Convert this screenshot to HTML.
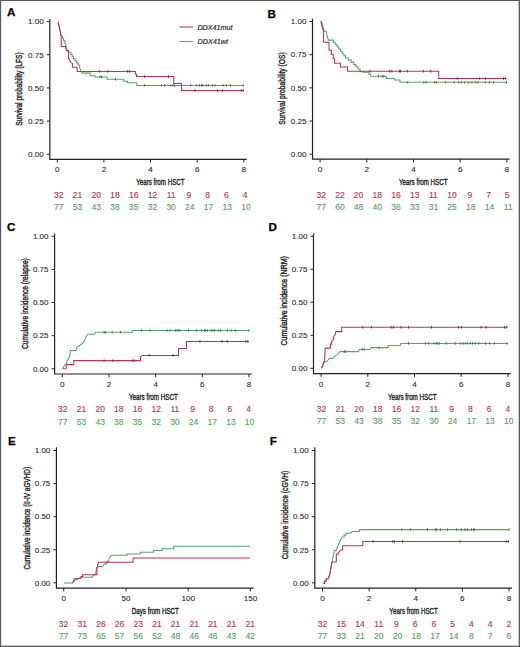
<!DOCTYPE html><html><head><meta charset="utf-8"><style>html,body{margin:0;padding:0;background:#fff;}svg{display:block;}</style></head><body>
<svg width="520" height="647" viewBox="0 0 520 647" font-family='"Liberation Sans", sans-serif'>
<rect x="0" y="0" width="520" height="647" fill="#fff"/>
<text x="6.9" y="16.3" font-size="11.6" font-weight="bold" fill="#000" stroke="#000" stroke-width="0.25">A</text>
<path d="M49.8 19V159.3H246.7" fill="none" stroke="#222" stroke-width="1.2"/>
<path d="M46.8 154.3H49.8" stroke="#222" stroke-width="1"/>
<text x="43.7" y="157.1" font-size="8" text-anchor="end" fill="#2a2a2a" stroke="#2a2a2a" stroke-width="0.1">0.00</text>
<path d="M46.8 121.12H49.8" stroke="#222" stroke-width="1"/>
<text x="43.7" y="123.92" font-size="8" text-anchor="end" fill="#2a2a2a" stroke="#2a2a2a" stroke-width="0.1">0.25</text>
<path d="M46.8 87.95H49.8" stroke="#222" stroke-width="1"/>
<text x="43.7" y="90.75" font-size="8" text-anchor="end" fill="#2a2a2a" stroke="#2a2a2a" stroke-width="0.1">0.50</text>
<path d="M46.8 54.78H49.8" stroke="#222" stroke-width="1"/>
<text x="43.7" y="57.58" font-size="8" text-anchor="end" fill="#2a2a2a" stroke="#2a2a2a" stroke-width="0.1">0.75</text>
<path d="M46.8 21.6H49.8" stroke="#222" stroke-width="1"/>
<text x="43.7" y="24.4" font-size="8" text-anchor="end" fill="#2a2a2a" stroke="#2a2a2a" stroke-width="0.1">1.00</text>
<path d="M57.3 159.3V162.6" stroke="#222" stroke-width="1"/>
<text x="57.3" y="172.3" font-size="8.1" text-anchor="middle" fill="#2a2a2a" stroke="#2a2a2a" stroke-width="0.1">0</text>
<path d="M103.92 159.3V162.6" stroke="#222" stroke-width="1"/>
<text x="103.92" y="172.3" font-size="8.1" text-anchor="middle" fill="#2a2a2a" stroke="#2a2a2a" stroke-width="0.1">2</text>
<path d="M150.55 159.3V162.6" stroke="#222" stroke-width="1"/>
<text x="150.55" y="172.3" font-size="8.1" text-anchor="middle" fill="#2a2a2a" stroke="#2a2a2a" stroke-width="0.1">4</text>
<path d="M197.18 159.3V162.6" stroke="#222" stroke-width="1"/>
<text x="197.18" y="172.3" font-size="8.1" text-anchor="middle" fill="#2a2a2a" stroke="#2a2a2a" stroke-width="0.1">6</text>
<path d="M243.8 159.3V162.6" stroke="#222" stroke-width="1"/>
<text x="243.8" y="172.3" font-size="8.1" text-anchor="middle" fill="#2a2a2a" stroke="#2a2a2a" stroke-width="0.1">8</text>
<text x="160.4" y="185.2" font-size="9.2" text-anchor="middle" textLength="48.4" lengthAdjust="spacingAndGlyphs" fill="#222" stroke="#222" stroke-width="0.38">Years from HSCT</text>
<text transform="translate(22 89.1) rotate(-90)" font-size="9.2" text-anchor="middle" textLength="73.4" lengthAdjust="spacingAndGlyphs" fill="#222" stroke="#222" stroke-width="0.38">Survival probability (LFS)</text>
<text x="58.8" y="197.7" font-size="8.5" text-anchor="middle" fill="#b03252" stroke="#b03252" stroke-width="0.12">32</text>
<text x="58.8" y="209.9" font-size="8.5" text-anchor="middle" fill="#55a060" stroke="#55a060" stroke-width="0.12">77</text>
<text x="77.52" y="197.7" font-size="8.5" text-anchor="middle" fill="#b03252" stroke="#b03252" stroke-width="0.12">21</text>
<text x="77.52" y="209.9" font-size="8.5" text-anchor="middle" fill="#55a060" stroke="#55a060" stroke-width="0.12">53</text>
<text x="96.24" y="197.7" font-size="8.5" text-anchor="middle" fill="#b03252" stroke="#b03252" stroke-width="0.12">20</text>
<text x="96.24" y="209.9" font-size="8.5" text-anchor="middle" fill="#55a060" stroke="#55a060" stroke-width="0.12">43</text>
<text x="114.96" y="197.7" font-size="8.5" text-anchor="middle" fill="#b03252" stroke="#b03252" stroke-width="0.12">18</text>
<text x="114.96" y="209.9" font-size="8.5" text-anchor="middle" fill="#55a060" stroke="#55a060" stroke-width="0.12">38</text>
<text x="133.68" y="197.7" font-size="8.5" text-anchor="middle" fill="#b03252" stroke="#b03252" stroke-width="0.12">16</text>
<text x="133.68" y="209.9" font-size="8.5" text-anchor="middle" fill="#55a060" stroke="#55a060" stroke-width="0.12">35</text>
<text x="152.4" y="197.7" font-size="8.5" text-anchor="middle" fill="#b03252" stroke="#b03252" stroke-width="0.12">12</text>
<text x="152.4" y="209.9" font-size="8.5" text-anchor="middle" fill="#55a060" stroke="#55a060" stroke-width="0.12">32</text>
<text x="171.12" y="197.7" font-size="8.5" text-anchor="middle" fill="#b03252" stroke="#b03252" stroke-width="0.12">11</text>
<text x="171.12" y="209.9" font-size="8.5" text-anchor="middle" fill="#55a060" stroke="#55a060" stroke-width="0.12">30</text>
<text x="188.84" y="197.7" font-size="8.5" text-anchor="middle" fill="#b03252" stroke="#b03252" stroke-width="0.12">9</text>
<text x="189.84" y="209.9" font-size="8.5" text-anchor="middle" fill="#55a060" stroke="#55a060" stroke-width="0.12">24</text>
<text x="207.56" y="197.7" font-size="8.5" text-anchor="middle" fill="#b03252" stroke="#b03252" stroke-width="0.12">8</text>
<text x="208.56" y="209.9" font-size="8.5" text-anchor="middle" fill="#55a060" stroke="#55a060" stroke-width="0.12">17</text>
<text x="226.28" y="197.7" font-size="8.5" text-anchor="middle" fill="#b03252" stroke="#b03252" stroke-width="0.12">6</text>
<text x="227.28" y="209.9" font-size="8.5" text-anchor="middle" fill="#55a060" stroke="#55a060" stroke-width="0.12">13</text>
<text x="245" y="197.7" font-size="8.5" text-anchor="middle" fill="#b03252" stroke="#b03252" stroke-width="0.12">4</text>
<text x="246" y="209.9" font-size="8.5" text-anchor="middle" fill="#55a060" stroke="#55a060" stroke-width="0.12">10</text>
<path d="M58.2 21.8 L59.7 29 L61.2 36 L62.4 36 L62.4 38.23 L63.6 38.23 L63.6 40.47 L64.8 40.47 L64.8 42.7 L66.2 46.4 L67.1 50.9 L69.6 52.3 L70.87 52.3 L70.87 54.37 L72.13 54.37 L72.13 56.43 L73.4 56.43 L73.4 58.5 L74.98 58.5 L74.98 60.77 L76.55 60.77 L76.55 63.05 L78.12 63.05 L78.12 65.32 L79.7 65.32 L79.7 67.6 L80.7 71.1 L82.4 73.1 L90.2 73.1 L90.2 75.7 L94.8 75.7 L94.8 76.9 L107 76.9 L107 79.2 L123.8 79.2 L123.8 81.2 L127.7 81.2 L127.7 82.7 L136.9 82.7 L136.9 85.4 L243.9 85.4" fill="none" stroke="#55a466" stroke-width="1.05" stroke-linejoin="miter"/>
<path d="M100 75.6V78.2M101.6 75.6V78.2M115.5 77.9V80.5M144.6 84.1V86.7M161.5 84.1V86.7M164.6 84.1V86.7M170.8 84.1V86.7M173 84.1V86.7M174.6 84.1V86.7M190.8 84.1V86.7M196.8 84.1V86.7M199.5 84.1V86.7M201.5 84.1V86.7M202.9 84.1V86.7M206.2 84.1V86.7M208.3 84.1V86.7M212.3 84.1V86.7M215 84.1V86.7M223.1 84.1V86.7M226.4 84.1V86.7M230.5 84.1V86.7M243.3 84.1V86.7" stroke="#3a7048" stroke-width="0.9"/>
<path d="M58.2 21.8 L59.7 29 L61.2 36 L61.2 46.4 L65.4 46.4 L66.4 50.5 L68.5 50.5 L68.5 57.8 L71 62.7 L72.4 63.4 L72.4 67.2 L77.2 67.2 L77.2 71.4 L135.4 71.4 L135.4 74.2 L136.6 74.2 L136.6 76.5 L173.8 76.5 L173.8 83.5 L181.4 83.5 L181.4 90.5 L243.9 90.5" fill="none" stroke="#bf2f52" stroke-width="1.05" stroke-linejoin="miter"/>
<path d="M99.4 70.1V72.7M107.8 70.1V72.7M127.5 70.1V72.7M129.4 70.1V72.7M144.6 75.2V77.8M168.5 75.2V77.8M194.8 89.2V91.8M217.4 89.2V91.8M222.4 89.2V91.8M241.2 89.2V91.8M243.3 89.2V91.8" stroke="#7a2038" stroke-width="0.9"/>
<text x="267.4" y="17.6" font-size="11.6" font-weight="bold" fill="#000" stroke="#000" stroke-width="0.25">B</text>
<path d="M312.5 18.8V159.2H509.6" fill="none" stroke="#222" stroke-width="1.2"/>
<path d="M309.5 154.2H312.5" stroke="#222" stroke-width="1"/>
<text x="306.4" y="157" font-size="8" text-anchor="end" fill="#2a2a2a" stroke="#2a2a2a" stroke-width="0.1">0.00</text>
<path d="M309.5 121.02H312.5" stroke="#222" stroke-width="1"/>
<text x="306.4" y="123.82" font-size="8" text-anchor="end" fill="#2a2a2a" stroke="#2a2a2a" stroke-width="0.1">0.25</text>
<path d="M309.5 87.85H312.5" stroke="#222" stroke-width="1"/>
<text x="306.4" y="90.65" font-size="8" text-anchor="end" fill="#2a2a2a" stroke="#2a2a2a" stroke-width="0.1">0.50</text>
<path d="M309.5 54.67H312.5" stroke="#222" stroke-width="1"/>
<text x="306.4" y="57.47" font-size="8" text-anchor="end" fill="#2a2a2a" stroke="#2a2a2a" stroke-width="0.1">0.75</text>
<path d="M309.5 21.5H312.5" stroke="#222" stroke-width="1"/>
<text x="306.4" y="24.3" font-size="8" text-anchor="end" fill="#2a2a2a" stroke="#2a2a2a" stroke-width="0.1">1.00</text>
<path d="M320.1 159.2V162.5" stroke="#222" stroke-width="1"/>
<text x="320.1" y="172.2" font-size="8.1" text-anchor="middle" fill="#2a2a2a" stroke="#2a2a2a" stroke-width="0.1">0</text>
<path d="M366.8 159.2V162.5" stroke="#222" stroke-width="1"/>
<text x="366.8" y="172.2" font-size="8.1" text-anchor="middle" fill="#2a2a2a" stroke="#2a2a2a" stroke-width="0.1">2</text>
<path d="M413.5 159.2V162.5" stroke="#222" stroke-width="1"/>
<text x="413.5" y="172.2" font-size="8.1" text-anchor="middle" fill="#2a2a2a" stroke="#2a2a2a" stroke-width="0.1">4</text>
<path d="M460.2 159.2V162.5" stroke="#222" stroke-width="1"/>
<text x="460.2" y="172.2" font-size="8.1" text-anchor="middle" fill="#2a2a2a" stroke="#2a2a2a" stroke-width="0.1">6</text>
<path d="M506.9 159.2V162.5" stroke="#222" stroke-width="1"/>
<text x="506.9" y="172.2" font-size="8.1" text-anchor="middle" fill="#2a2a2a" stroke="#2a2a2a" stroke-width="0.1">8</text>
<text x="423.3" y="185.1" font-size="9.2" text-anchor="middle" textLength="48.5" lengthAdjust="spacingAndGlyphs" fill="#222" stroke="#222" stroke-width="0.38">Years from HSCT</text>
<text transform="translate(285.3 88.5) rotate(-90)" font-size="9.2" text-anchor="middle" textLength="72.3" lengthAdjust="spacingAndGlyphs" fill="#222" stroke="#222" stroke-width="0.38">Survival probability (OS)</text>
<text x="321.2" y="197.6" font-size="8.5" text-anchor="middle" fill="#b03252" stroke="#b03252" stroke-width="0.12">32</text>
<text x="321.2" y="209.8" font-size="8.5" text-anchor="middle" fill="#55a060" stroke="#55a060" stroke-width="0.12">77</text>
<text x="339.9" y="197.6" font-size="8.5" text-anchor="middle" fill="#b03252" stroke="#b03252" stroke-width="0.12">22</text>
<text x="339.9" y="209.8" font-size="8.5" text-anchor="middle" fill="#55a060" stroke="#55a060" stroke-width="0.12">60</text>
<text x="358.6" y="197.6" font-size="8.5" text-anchor="middle" fill="#b03252" stroke="#b03252" stroke-width="0.12">20</text>
<text x="358.6" y="209.8" font-size="8.5" text-anchor="middle" fill="#55a060" stroke="#55a060" stroke-width="0.12">48</text>
<text x="377.3" y="197.6" font-size="8.5" text-anchor="middle" fill="#b03252" stroke="#b03252" stroke-width="0.12">18</text>
<text x="377.3" y="209.8" font-size="8.5" text-anchor="middle" fill="#55a060" stroke="#55a060" stroke-width="0.12">40</text>
<text x="396" y="197.6" font-size="8.5" text-anchor="middle" fill="#b03252" stroke="#b03252" stroke-width="0.12">16</text>
<text x="396" y="209.8" font-size="8.5" text-anchor="middle" fill="#55a060" stroke="#55a060" stroke-width="0.12">36</text>
<text x="414.7" y="197.6" font-size="8.5" text-anchor="middle" fill="#b03252" stroke="#b03252" stroke-width="0.12">13</text>
<text x="414.7" y="209.8" font-size="8.5" text-anchor="middle" fill="#55a060" stroke="#55a060" stroke-width="0.12">33</text>
<text x="433.4" y="197.6" font-size="8.5" text-anchor="middle" fill="#b03252" stroke="#b03252" stroke-width="0.12">11</text>
<text x="433.4" y="209.8" font-size="8.5" text-anchor="middle" fill="#55a060" stroke="#55a060" stroke-width="0.12">31</text>
<text x="452.1" y="197.6" font-size="8.5" text-anchor="middle" fill="#b03252" stroke="#b03252" stroke-width="0.12">10</text>
<text x="452.1" y="209.8" font-size="8.5" text-anchor="middle" fill="#55a060" stroke="#55a060" stroke-width="0.12">25</text>
<text x="469.8" y="197.6" font-size="8.5" text-anchor="middle" fill="#b03252" stroke="#b03252" stroke-width="0.12">9</text>
<text x="470.8" y="209.8" font-size="8.5" text-anchor="middle" fill="#55a060" stroke="#55a060" stroke-width="0.12">18</text>
<text x="488.5" y="197.6" font-size="8.5" text-anchor="middle" fill="#b03252" stroke="#b03252" stroke-width="0.12">7</text>
<text x="489.5" y="209.8" font-size="8.5" text-anchor="middle" fill="#55a060" stroke="#55a060" stroke-width="0.12">14</text>
<text x="507.2" y="197.6" font-size="8.5" text-anchor="middle" fill="#b03252" stroke="#b03252" stroke-width="0.12">5</text>
<text x="508.2" y="209.8" font-size="8.5" text-anchor="middle" fill="#55a060" stroke="#55a060" stroke-width="0.12">11</text>
<path d="M320.8 21.5 L321.46 21.5 L321.46 23.5 L322.12 23.5 L322.12 25.5 L322.78 25.5 L322.78 27.5 L323.44 27.5 L323.44 29.5 L324.1 29.5 L324.1 31.5 L326 31.5 L328.4 40.1 L331.7 40.1 L333.45 40.1 L333.45 42.33 L335.2 42.33 L335.2 44.55 L336.95 44.55 L336.95 46.77 L338.7 46.77 L338.7 49 L340.45 49 L340.45 51.23 L342.2 51.23 L342.2 53.45 L343.95 53.45 L343.95 55.67 L345.7 55.67 L345.7 57.9 L348.4 57.9 L348.4 60.13 L351.1 60.13 L351.1 62.37 L353.8 62.37 L353.8 64.6 L355.9 64.6 L355.9 66.83 L358 66.83 L358 69.07 L360.1 69.07 L360.1 71.3 L363.5 72.3 L367.3 72.3 L368.9 72.3 L368.9 74.3 L370.5 74.3 L370.5 76.3 L386.2 76.3 L386.2 78.4 L394.6 78.4 L394.6 79.9 L400 79.9 L400 82.3 L506.5 82.3" fill="none" stroke="#55a466" stroke-width="1.05" stroke-linejoin="miter"/>
<path d="M378.5 75V77.6M382.3 75V77.6M383.8 75V77.6M407.7 81V83.6M423.8 81V83.6M426.2 81V83.6M434.7 81V83.6M436.4 81V83.6M445.6 81V83.6M454.3 81V83.6M458.9 81V83.6M461.5 81V83.6M464.6 81V83.6M468.4 81V83.6M471.9 81V83.6M475.7 81V83.6M478 81V83.6M485.4 81V83.6M489.2 81V83.6M493.5 81V83.6M506.5 81V83.6" stroke="#3a7048" stroke-width="0.9"/>
<path d="M320.8 21.5 L323.4 31 L323.6 42.2 L329 42.2 L329 50.2 L331.3 50.2 L331.3 54.5 L333.2 54.5 L333.2 58.8 L334.6 58.8 L334.6 63.2 L340.4 63.2 L340.4 67 L347.6 67 L347.6 71.2 L438.7 71.2 L438.7 78.5 L506.5 78.5" fill="none" stroke="#bf2f52" stroke-width="1.05" stroke-linejoin="miter"/>
<path d="M370 69.9V72.5M389.7 69.9V72.5M391.8 69.9V72.5M399.5 69.9V72.5M400.5 69.9V72.5M407.2 69.9V72.5M423.5 69.9V72.5M430.7 69.9V72.5M457.2 77.2V79.8M479.7 77.2V79.8M485.4 77.2V79.8M503.4 77.2V79.8M505.6 77.2V79.8" stroke="#7a2038" stroke-width="0.9"/>
<text x="6.9" y="230.5" font-size="11.6" font-weight="bold" fill="#000" stroke="#000" stroke-width="0.25">C</text>
<path d="M54.6 233.5V374H251.9" fill="none" stroke="#222" stroke-width="1.2"/>
<path d="M51.6 368.75H54.6" stroke="#222" stroke-width="1"/>
<text x="48.5" y="371.55" font-size="8" text-anchor="end" fill="#2a2a2a" stroke="#2a2a2a" stroke-width="0.1">0.00</text>
<path d="M51.6 335.64H54.6" stroke="#222" stroke-width="1"/>
<text x="48.5" y="338.44" font-size="8" text-anchor="end" fill="#2a2a2a" stroke="#2a2a2a" stroke-width="0.1">0.25</text>
<path d="M51.6 302.52H54.6" stroke="#222" stroke-width="1"/>
<text x="48.5" y="305.32" font-size="8" text-anchor="end" fill="#2a2a2a" stroke="#2a2a2a" stroke-width="0.1">0.50</text>
<path d="M51.6 269.41H54.6" stroke="#222" stroke-width="1"/>
<text x="48.5" y="272.21" font-size="8" text-anchor="end" fill="#2a2a2a" stroke="#2a2a2a" stroke-width="0.1">0.75</text>
<path d="M51.6 236.3H54.6" stroke="#222" stroke-width="1"/>
<text x="48.5" y="239.1" font-size="8" text-anchor="end" fill="#2a2a2a" stroke="#2a2a2a" stroke-width="0.1">1.00</text>
<path d="M62.3 374V377.3" stroke="#222" stroke-width="1"/>
<text x="62.3" y="387" font-size="8.1" text-anchor="middle" fill="#2a2a2a" stroke="#2a2a2a" stroke-width="0.1">0</text>
<path d="M108.97 374V377.3" stroke="#222" stroke-width="1"/>
<text x="108.97" y="387" font-size="8.1" text-anchor="middle" fill="#2a2a2a" stroke="#2a2a2a" stroke-width="0.1">2</text>
<path d="M155.65 374V377.3" stroke="#222" stroke-width="1"/>
<text x="155.65" y="387" font-size="8.1" text-anchor="middle" fill="#2a2a2a" stroke="#2a2a2a" stroke-width="0.1">4</text>
<path d="M202.32 374V377.3" stroke="#222" stroke-width="1"/>
<text x="202.32" y="387" font-size="8.1" text-anchor="middle" fill="#2a2a2a" stroke="#2a2a2a" stroke-width="0.1">6</text>
<path d="M249 374V377.3" stroke="#222" stroke-width="1"/>
<text x="249" y="387" font-size="8.1" text-anchor="middle" fill="#2a2a2a" stroke="#2a2a2a" stroke-width="0.1">8</text>
<text x="153.4" y="399.9" font-size="9.2" text-anchor="middle" textLength="49" lengthAdjust="spacingAndGlyphs" fill="#222" stroke="#222" stroke-width="0.38">Years from HSCT</text>
<text transform="translate(28.3 303.6) rotate(-90)" font-size="9.2" text-anchor="middle" textLength="90.8" lengthAdjust="spacingAndGlyphs" fill="#222" stroke="#222" stroke-width="0.38">Cumulative incidence (relapse)</text>
<text x="62.8" y="412.4" font-size="8.5" text-anchor="middle" fill="#b03252" stroke="#b03252" stroke-width="0.12">32</text>
<text x="62.8" y="424.6" font-size="8.5" text-anchor="middle" fill="#55a060" stroke="#55a060" stroke-width="0.12">77</text>
<text x="81.48" y="412.4" font-size="8.5" text-anchor="middle" fill="#b03252" stroke="#b03252" stroke-width="0.12">21</text>
<text x="81.48" y="424.6" font-size="8.5" text-anchor="middle" fill="#55a060" stroke="#55a060" stroke-width="0.12">53</text>
<text x="100.16" y="412.4" font-size="8.5" text-anchor="middle" fill="#b03252" stroke="#b03252" stroke-width="0.12">20</text>
<text x="100.16" y="424.6" font-size="8.5" text-anchor="middle" fill="#55a060" stroke="#55a060" stroke-width="0.12">43</text>
<text x="118.84" y="412.4" font-size="8.5" text-anchor="middle" fill="#b03252" stroke="#b03252" stroke-width="0.12">18</text>
<text x="118.84" y="424.6" font-size="8.5" text-anchor="middle" fill="#55a060" stroke="#55a060" stroke-width="0.12">38</text>
<text x="137.52" y="412.4" font-size="8.5" text-anchor="middle" fill="#b03252" stroke="#b03252" stroke-width="0.12">16</text>
<text x="137.52" y="424.6" font-size="8.5" text-anchor="middle" fill="#55a060" stroke="#55a060" stroke-width="0.12">35</text>
<text x="156.2" y="412.4" font-size="8.5" text-anchor="middle" fill="#b03252" stroke="#b03252" stroke-width="0.12">12</text>
<text x="156.2" y="424.6" font-size="8.5" text-anchor="middle" fill="#55a060" stroke="#55a060" stroke-width="0.12">32</text>
<text x="174.88" y="412.4" font-size="8.5" text-anchor="middle" fill="#b03252" stroke="#b03252" stroke-width="0.12">11</text>
<text x="174.88" y="424.6" font-size="8.5" text-anchor="middle" fill="#55a060" stroke="#55a060" stroke-width="0.12">30</text>
<text x="192.56" y="412.4" font-size="8.5" text-anchor="middle" fill="#b03252" stroke="#b03252" stroke-width="0.12">9</text>
<text x="193.56" y="424.6" font-size="8.5" text-anchor="middle" fill="#55a060" stroke="#55a060" stroke-width="0.12">24</text>
<text x="211.24" y="412.4" font-size="8.5" text-anchor="middle" fill="#b03252" stroke="#b03252" stroke-width="0.12">8</text>
<text x="212.24" y="424.6" font-size="8.5" text-anchor="middle" fill="#55a060" stroke="#55a060" stroke-width="0.12">17</text>
<text x="229.92" y="412.4" font-size="8.5" text-anchor="middle" fill="#b03252" stroke="#b03252" stroke-width="0.12">6</text>
<text x="230.92" y="424.6" font-size="8.5" text-anchor="middle" fill="#55a060" stroke="#55a060" stroke-width="0.12">13</text>
<text x="248.6" y="412.4" font-size="8.5" text-anchor="middle" fill="#b03252" stroke="#b03252" stroke-width="0.12">4</text>
<text x="249.6" y="424.6" font-size="8.5" text-anchor="middle" fill="#55a060" stroke="#55a060" stroke-width="0.12">10</text>
<path d="M62.7 368.8 L64.2 365.8 L66.2 364.2 L67.3 360.4 L69.6 356.5 L70.4 350.4 L75.8 350.4 L77.3 346.9 L80 345.2 L83.1 342.7 L84.6 340.4 L85.8 337.3 L87.7 334.2 L94.6 334.2 L95.8 332.3 L132.3 332.3 L132.3 330.4 L249 330.4" fill="none" stroke="#55a466" stroke-width="1.05" stroke-linejoin="miter"/>
<path d="M104.1 331V333.6M105.3 331V333.6M112.2 331V333.6M120.5 331V333.6M141.5 329.1V331.7M150 329.1V331.7M166.9 329.1V331.7M170 329.1V331.7M175.4 329.1V331.7M176.9 329.1V331.7M178.5 329.1V331.7M180 329.1V331.7M188.5 329.1V331.7M196.6 329.1V331.7M201.6 329.1V331.7M204.5 329.1V331.7M205.7 329.1V331.7M207.4 329.1V331.7M211 329.1V331.7M212.9 329.1V331.7M214.6 329.1V331.7M218.2 329.1V331.7M220.4 329.1V331.7M227.6 329.1V331.7M231.2 329.1V331.7M235.6 329.1V331.7M249 329.1V331.7" stroke="#3a7048" stroke-width="0.9"/>
<path d="M62.7 368.8 L66.2 368.8 L66.2 364.6 L73.8 364.6 L73.8 360.6 L140.5 360.6 L140.5 357 L142.3 355.4 L178.5 355.4 L178.5 348.4 L186.5 348.4 L186.5 341.4 L249 341.4" fill="none" stroke="#bf2f52" stroke-width="1.05" stroke-linejoin="miter"/>
<path d="M104.1 359.3V361.9M112.8 359.3V361.9M132.3 359.3V361.9M134.3 359.3V361.9M149.2 354.1V356.7M173.1 354.1V356.7M199.9 340.1V342.7M222.1 340.1V342.7M227.3 340.1V342.7M245.7 340.1V342.7M247.8 340.1V342.7" stroke="#7a2038" stroke-width="0.9"/>
<text x="268.4" y="230.6" font-size="11.6" font-weight="bold" fill="#000" stroke="#000" stroke-width="0.25">D</text>
<path d="M313.5 233.5V373.6H510.7" fill="none" stroke="#222" stroke-width="1.2"/>
<path d="M310.5 368.3H313.5" stroke="#222" stroke-width="1"/>
<text x="307.4" y="371.1" font-size="8" text-anchor="end" fill="#2a2a2a" stroke="#2a2a2a" stroke-width="0.1">0.00</text>
<path d="M310.5 335.3H313.5" stroke="#222" stroke-width="1"/>
<text x="307.4" y="338.1" font-size="8" text-anchor="end" fill="#2a2a2a" stroke="#2a2a2a" stroke-width="0.1">0.25</text>
<path d="M310.5 302.3H313.5" stroke="#222" stroke-width="1"/>
<text x="307.4" y="305.1" font-size="8" text-anchor="end" fill="#2a2a2a" stroke="#2a2a2a" stroke-width="0.1">0.50</text>
<path d="M310.5 269.3H313.5" stroke="#222" stroke-width="1"/>
<text x="307.4" y="272.1" font-size="8" text-anchor="end" fill="#2a2a2a" stroke="#2a2a2a" stroke-width="0.1">0.75</text>
<path d="M310.5 236.3H313.5" stroke="#222" stroke-width="1"/>
<text x="307.4" y="239.1" font-size="8" text-anchor="end" fill="#2a2a2a" stroke="#2a2a2a" stroke-width="0.1">1.00</text>
<path d="M321.1 373.6V376.9" stroke="#222" stroke-width="1"/>
<text x="321.1" y="386.6" font-size="8.1" text-anchor="middle" fill="#2a2a2a" stroke="#2a2a2a" stroke-width="0.1">0</text>
<path d="M367.8 373.6V376.9" stroke="#222" stroke-width="1"/>
<text x="367.8" y="386.6" font-size="8.1" text-anchor="middle" fill="#2a2a2a" stroke="#2a2a2a" stroke-width="0.1">2</text>
<path d="M414.5 373.6V376.9" stroke="#222" stroke-width="1"/>
<text x="414.5" y="386.6" font-size="8.1" text-anchor="middle" fill="#2a2a2a" stroke="#2a2a2a" stroke-width="0.1">4</text>
<path d="M461.2 373.6V376.9" stroke="#222" stroke-width="1"/>
<text x="461.2" y="386.6" font-size="8.1" text-anchor="middle" fill="#2a2a2a" stroke="#2a2a2a" stroke-width="0.1">6</text>
<path d="M507.9 373.6V376.9" stroke="#222" stroke-width="1"/>
<text x="507.9" y="386.6" font-size="8.1" text-anchor="middle" fill="#2a2a2a" stroke="#2a2a2a" stroke-width="0.1">8</text>
<text x="412.2" y="399.5" font-size="9.2" text-anchor="middle" textLength="48.6" lengthAdjust="spacingAndGlyphs" fill="#222" stroke="#222" stroke-width="0.38">Years from HSCT</text>
<text transform="translate(286.5 300.8) rotate(-90)" font-size="9.2" text-anchor="middle" textLength="89.4" lengthAdjust="spacingAndGlyphs" fill="#222" stroke="#222" stroke-width="0.38">Cumulative incidence (NRM)</text>
<text x="321.6" y="412" font-size="8.5" text-anchor="middle" fill="#b03252" stroke="#b03252" stroke-width="0.12">32</text>
<text x="321.6" y="424.2" font-size="8.5" text-anchor="middle" fill="#55a060" stroke="#55a060" stroke-width="0.12">77</text>
<text x="340.32" y="412" font-size="8.5" text-anchor="middle" fill="#b03252" stroke="#b03252" stroke-width="0.12">21</text>
<text x="340.32" y="424.2" font-size="8.5" text-anchor="middle" fill="#55a060" stroke="#55a060" stroke-width="0.12">53</text>
<text x="359.04" y="412" font-size="8.5" text-anchor="middle" fill="#b03252" stroke="#b03252" stroke-width="0.12">20</text>
<text x="359.04" y="424.2" font-size="8.5" text-anchor="middle" fill="#55a060" stroke="#55a060" stroke-width="0.12">43</text>
<text x="377.76" y="412" font-size="8.5" text-anchor="middle" fill="#b03252" stroke="#b03252" stroke-width="0.12">18</text>
<text x="377.76" y="424.2" font-size="8.5" text-anchor="middle" fill="#55a060" stroke="#55a060" stroke-width="0.12">38</text>
<text x="396.48" y="412" font-size="8.5" text-anchor="middle" fill="#b03252" stroke="#b03252" stroke-width="0.12">16</text>
<text x="396.48" y="424.2" font-size="8.5" text-anchor="middle" fill="#55a060" stroke="#55a060" stroke-width="0.12">35</text>
<text x="415.2" y="412" font-size="8.5" text-anchor="middle" fill="#b03252" stroke="#b03252" stroke-width="0.12">12</text>
<text x="415.2" y="424.2" font-size="8.5" text-anchor="middle" fill="#55a060" stroke="#55a060" stroke-width="0.12">32</text>
<text x="433.92" y="412" font-size="8.5" text-anchor="middle" fill="#b03252" stroke="#b03252" stroke-width="0.12">11</text>
<text x="433.92" y="424.2" font-size="8.5" text-anchor="middle" fill="#55a060" stroke="#55a060" stroke-width="0.12">30</text>
<text x="451.64" y="412" font-size="8.5" text-anchor="middle" fill="#b03252" stroke="#b03252" stroke-width="0.12">9</text>
<text x="452.64" y="424.2" font-size="8.5" text-anchor="middle" fill="#55a060" stroke="#55a060" stroke-width="0.12">24</text>
<text x="470.36" y="412" font-size="8.5" text-anchor="middle" fill="#b03252" stroke="#b03252" stroke-width="0.12">8</text>
<text x="471.36" y="424.2" font-size="8.5" text-anchor="middle" fill="#55a060" stroke="#55a060" stroke-width="0.12">17</text>
<text x="489.08" y="412" font-size="8.5" text-anchor="middle" fill="#b03252" stroke="#b03252" stroke-width="0.12">6</text>
<text x="490.08" y="424.2" font-size="8.5" text-anchor="middle" fill="#55a060" stroke="#55a060" stroke-width="0.12">13</text>
<text x="507.8" y="412" font-size="8.5" text-anchor="middle" fill="#b03252" stroke="#b03252" stroke-width="0.12">4</text>
<text x="508.8" y="424.2" font-size="8.5" text-anchor="middle" fill="#55a060" stroke="#55a060" stroke-width="0.12">10</text>
<path d="M321.6 368.2 L324.4 361.8 L326.8 361.4 L329.2 358.4 L332.9 358.4 L334.9 356.1 L337.7 354.1 L340.1 351.6 L358.1 351.6 L359.3 349.4 L370.2 349.4 L371.4 347.6 L388.2 347.6 L388.2 345.5 L400.8 345.5 L400.8 343.4 L507.5 343.4" fill="none" stroke="#55a466" stroke-width="1.05" stroke-linejoin="miter"/>
<path d="M344.3 350.3V352.9M345.4 350.3V352.9M362.1 348.1V350.7M364.2 348.1V350.7M379.2 346.3V348.9M408.5 342.1V344.7M425.4 342.1V344.7M428.8 342.1V344.7M433.8 342.1V344.7M436.2 342.1V344.7M437.7 342.1V344.7M439.2 342.1V344.7M446.3 342.1V344.7M455.2 342.1V344.7M460.2 342.1V344.7M463.1 342.1V344.7M465.3 342.1V344.7M467.4 342.1V344.7M470.3 342.1V344.7M472.5 342.1V344.7M475.4 342.1V344.7M478.7 342.1V344.7M485.5 342.1V344.7M489.8 342.1V344.7M494.5 342.1V344.7M507.1 342.1V344.7" stroke="#3a7048" stroke-width="0.9"/>
<path d="M321.6 368.2 L324 361.8 L324.5 361.8 L325.2 348.1 L330.4 348.1 L330.4 344.1 L331.7 344.1 L331.7 341.3 L333.7 339.3 L333.7 336.5 L334.9 335.3 L335.8 331.6 L341.7 331.6 L341.7 327.3 L507.5 327.3" fill="none" stroke="#bf2f52" stroke-width="1.05" stroke-linejoin="miter"/>
<path d="M362.7 326V328.6M371.4 326V328.6M391.2 326V328.6M393.4 326V328.6M401 326V328.6M408.5 326V328.6M431.5 326V328.6M458.5 326V328.6M461.4 326V328.6M481.1 326V328.6M486.2 326V328.6M504.6 326V328.6M506.7 326V328.6" stroke="#7a2038" stroke-width="0.9"/>
<text x="8.1" y="445.2" font-size="11.6" font-weight="bold" fill="#000" stroke="#000" stroke-width="0.25">E</text>
<path d="M56.4 447.3V588.1H253.6" fill="none" stroke="#222" stroke-width="1.2"/>
<path d="M53.4 582.8H56.4" stroke="#222" stroke-width="1"/>
<text x="50.3" y="585.6" font-size="8" text-anchor="end" fill="#2a2a2a" stroke="#2a2a2a" stroke-width="0.1">0.00</text>
<path d="M53.4 549.72H56.4" stroke="#222" stroke-width="1"/>
<text x="50.3" y="552.52" font-size="8" text-anchor="end" fill="#2a2a2a" stroke="#2a2a2a" stroke-width="0.1">0.25</text>
<path d="M53.4 516.65H56.4" stroke="#222" stroke-width="1"/>
<text x="50.3" y="519.45" font-size="8" text-anchor="end" fill="#2a2a2a" stroke="#2a2a2a" stroke-width="0.1">0.50</text>
<path d="M53.4 483.57H56.4" stroke="#222" stroke-width="1"/>
<text x="50.3" y="486.38" font-size="8" text-anchor="end" fill="#2a2a2a" stroke="#2a2a2a" stroke-width="0.1">0.75</text>
<path d="M53.4 450.5H56.4" stroke="#222" stroke-width="1"/>
<text x="50.3" y="453.3" font-size="8" text-anchor="end" fill="#2a2a2a" stroke="#2a2a2a" stroke-width="0.1">1.00</text>
<path d="M63.75 588.1V591.4" stroke="#222" stroke-width="1"/>
<text x="63.75" y="601.1" font-size="8.1" text-anchor="middle" fill="#2a2a2a" stroke="#2a2a2a" stroke-width="0.1">0</text>
<path d="M125.97 588.1V591.4" stroke="#222" stroke-width="1"/>
<text x="125.97" y="601.1" font-size="8.1" text-anchor="middle" fill="#2a2a2a" stroke="#2a2a2a" stroke-width="0.1">50</text>
<path d="M188.18 588.1V591.4" stroke="#222" stroke-width="1"/>
<text x="188.18" y="601.1" font-size="8.1" text-anchor="middle" fill="#2a2a2a" stroke="#2a2a2a" stroke-width="0.1">100</text>
<path d="M250.4 588.1V591.4" stroke="#222" stroke-width="1"/>
<text x="250.4" y="601.1" font-size="8.1" text-anchor="middle" fill="#2a2a2a" stroke="#2a2a2a" stroke-width="0.1">150</text>
<text x="155.3" y="614" font-size="9.2" text-anchor="middle" textLength="47.1" lengthAdjust="spacingAndGlyphs" fill="#222" stroke="#222" stroke-width="0.38">Days from HSCT</text>
<text transform="translate(29.6 518.2) rotate(-90)" font-size="9.2" text-anchor="middle" textLength="102.6" lengthAdjust="spacingAndGlyphs" fill="#222" stroke="#222" stroke-width="0.38">Cumulative incidence (II-IV aGVHD)</text>
<text x="63.6" y="626.5" font-size="8.5" text-anchor="middle" fill="#b03252" stroke="#b03252" stroke-width="0.12">32</text>
<text x="63.6" y="638.7" font-size="8.5" text-anchor="middle" fill="#55a060" stroke="#55a060" stroke-width="0.12">77</text>
<text x="82.26" y="626.5" font-size="8.5" text-anchor="middle" fill="#b03252" stroke="#b03252" stroke-width="0.12">31</text>
<text x="82.26" y="638.7" font-size="8.5" text-anchor="middle" fill="#55a060" stroke="#55a060" stroke-width="0.12">73</text>
<text x="100.92" y="626.5" font-size="8.5" text-anchor="middle" fill="#b03252" stroke="#b03252" stroke-width="0.12">26</text>
<text x="100.92" y="638.7" font-size="8.5" text-anchor="middle" fill="#55a060" stroke="#55a060" stroke-width="0.12">65</text>
<text x="119.58" y="626.5" font-size="8.5" text-anchor="middle" fill="#b03252" stroke="#b03252" stroke-width="0.12">26</text>
<text x="119.58" y="638.7" font-size="8.5" text-anchor="middle" fill="#55a060" stroke="#55a060" stroke-width="0.12">57</text>
<text x="138.24" y="626.5" font-size="8.5" text-anchor="middle" fill="#b03252" stroke="#b03252" stroke-width="0.12">23</text>
<text x="138.24" y="638.7" font-size="8.5" text-anchor="middle" fill="#55a060" stroke="#55a060" stroke-width="0.12">56</text>
<text x="156.9" y="626.5" font-size="8.5" text-anchor="middle" fill="#b03252" stroke="#b03252" stroke-width="0.12">21</text>
<text x="156.9" y="638.7" font-size="8.5" text-anchor="middle" fill="#55a060" stroke="#55a060" stroke-width="0.12">52</text>
<text x="175.56" y="626.5" font-size="8.5" text-anchor="middle" fill="#b03252" stroke="#b03252" stroke-width="0.12">21</text>
<text x="175.56" y="638.7" font-size="8.5" text-anchor="middle" fill="#55a060" stroke="#55a060" stroke-width="0.12">48</text>
<text x="194.22" y="626.5" font-size="8.5" text-anchor="middle" fill="#b03252" stroke="#b03252" stroke-width="0.12">21</text>
<text x="194.22" y="638.7" font-size="8.5" text-anchor="middle" fill="#55a060" stroke="#55a060" stroke-width="0.12">46</text>
<text x="212.88" y="626.5" font-size="8.5" text-anchor="middle" fill="#b03252" stroke="#b03252" stroke-width="0.12">21</text>
<text x="212.88" y="638.7" font-size="8.5" text-anchor="middle" fill="#55a060" stroke="#55a060" stroke-width="0.12">46</text>
<text x="231.54" y="626.5" font-size="8.5" text-anchor="middle" fill="#b03252" stroke="#b03252" stroke-width="0.12">21</text>
<text x="231.54" y="638.7" font-size="8.5" text-anchor="middle" fill="#55a060" stroke="#55a060" stroke-width="0.12">43</text>
<text x="250.2" y="626.5" font-size="8.5" text-anchor="middle" fill="#b03252" stroke="#b03252" stroke-width="0.12">21</text>
<text x="250.2" y="638.7" font-size="8.5" text-anchor="middle" fill="#55a060" stroke="#55a060" stroke-width="0.12">42</text>
<path d="M63.8 583 L72 583 L73.5 581.5 L75.4 579.6 L77.8 579.1 L80.2 578.2 L82.6 577.2 L91.7 577.2 L93.2 575.6 L95.6 574.3 L96.5 568.1 L98 566.6 L102.3 566.6 L104.5 564 L106.65 564 L106.65 561.4 L108.8 561.4 L108.8 558.8 L111.4 555.3 L127 555.3 L127 553.9 L140.3 553.9 L140.3 552.2 L153.5 552.2 L153.5 550.5 L162.1 550.5 L162.1 548.7 L173.7 548.7 L173.7 546.3 L250.2 546.3" fill="none" stroke="#55a466" stroke-width="1.05" stroke-linejoin="miter"/>
<path d="M72.5 583.3 L74.4 578.7 L77.8 578.7 L79.2 578.2 L80.9 578.2 L80.9 576.5 L82.6 576.5 L82.6 574.8 L97 574.8 L97 567.6 L98.5 562.3 L133.1 562.3 L133.1 557.9 L250.2 557.9" fill="none" stroke="#bf2f52" stroke-width="1.05" stroke-linejoin="miter"/>
<text x="269.8" y="445.2" font-size="11.6" font-weight="bold" fill="#000" stroke="#000" stroke-width="0.25">F</text>
<path d="M314.8 447.3V588.1H511.9" fill="none" stroke="#222" stroke-width="1.2"/>
<path d="M311.8 582.8H314.8" stroke="#222" stroke-width="1"/>
<text x="308.7" y="585.6" font-size="8" text-anchor="end" fill="#2a2a2a" stroke="#2a2a2a" stroke-width="0.1">0.00</text>
<path d="M311.8 549.72H314.8" stroke="#222" stroke-width="1"/>
<text x="308.7" y="552.52" font-size="8" text-anchor="end" fill="#2a2a2a" stroke="#2a2a2a" stroke-width="0.1">0.25</text>
<path d="M311.8 516.65H314.8" stroke="#222" stroke-width="1"/>
<text x="308.7" y="519.45" font-size="8" text-anchor="end" fill="#2a2a2a" stroke="#2a2a2a" stroke-width="0.1">0.50</text>
<path d="M311.8 483.57H314.8" stroke="#222" stroke-width="1"/>
<text x="308.7" y="486.38" font-size="8" text-anchor="end" fill="#2a2a2a" stroke="#2a2a2a" stroke-width="0.1">0.75</text>
<path d="M311.8 450.5H314.8" stroke="#222" stroke-width="1"/>
<text x="308.7" y="453.3" font-size="8" text-anchor="end" fill="#2a2a2a" stroke="#2a2a2a" stroke-width="0.1">1.00</text>
<path d="M322.5 588.1V591.4" stroke="#222" stroke-width="1"/>
<text x="322.5" y="601.1" font-size="8.1" text-anchor="middle" fill="#2a2a2a" stroke="#2a2a2a" stroke-width="0.1">0</text>
<path d="M369.12 588.1V591.4" stroke="#222" stroke-width="1"/>
<text x="369.12" y="601.1" font-size="8.1" text-anchor="middle" fill="#2a2a2a" stroke="#2a2a2a" stroke-width="0.1">2</text>
<path d="M415.75 588.1V591.4" stroke="#222" stroke-width="1"/>
<text x="415.75" y="601.1" font-size="8.1" text-anchor="middle" fill="#2a2a2a" stroke="#2a2a2a" stroke-width="0.1">4</text>
<path d="M462.38 588.1V591.4" stroke="#222" stroke-width="1"/>
<text x="462.38" y="601.1" font-size="8.1" text-anchor="middle" fill="#2a2a2a" stroke="#2a2a2a" stroke-width="0.1">6</text>
<path d="M509 588.1V591.4" stroke="#222" stroke-width="1"/>
<text x="509" y="601.1" font-size="8.1" text-anchor="middle" fill="#2a2a2a" stroke="#2a2a2a" stroke-width="0.1">8</text>
<text x="413.6" y="614" font-size="9.2" text-anchor="middle" textLength="48.5" lengthAdjust="spacingAndGlyphs" fill="#222" stroke="#222" stroke-width="0.38">Years from HSCT</text>
<text transform="translate(287.8 515) rotate(-90)" font-size="9.2" text-anchor="middle" textLength="88.7" lengthAdjust="spacingAndGlyphs" fill="#222" stroke="#222" stroke-width="0.38">Cumulative incidence (cGVH)</text>
<text x="322.5" y="626.5" font-size="8.5" text-anchor="middle" fill="#b03252" stroke="#b03252" stroke-width="0.12">32</text>
<text x="322.5" y="638.7" font-size="8.5" text-anchor="middle" fill="#55a060" stroke="#55a060" stroke-width="0.12">77</text>
<text x="341.24" y="626.5" font-size="8.5" text-anchor="middle" fill="#b03252" stroke="#b03252" stroke-width="0.12">15</text>
<text x="341.24" y="638.7" font-size="8.5" text-anchor="middle" fill="#55a060" stroke="#55a060" stroke-width="0.12">33</text>
<text x="359.98" y="626.5" font-size="8.5" text-anchor="middle" fill="#b03252" stroke="#b03252" stroke-width="0.12">14</text>
<text x="359.98" y="638.7" font-size="8.5" text-anchor="middle" fill="#55a060" stroke="#55a060" stroke-width="0.12">21</text>
<text x="378.72" y="626.5" font-size="8.5" text-anchor="middle" fill="#b03252" stroke="#b03252" stroke-width="0.12">11</text>
<text x="378.72" y="638.7" font-size="8.5" text-anchor="middle" fill="#55a060" stroke="#55a060" stroke-width="0.12">20</text>
<text x="396.46" y="626.5" font-size="8.5" text-anchor="middle" fill="#b03252" stroke="#b03252" stroke-width="0.12">9</text>
<text x="397.46" y="638.7" font-size="8.5" text-anchor="middle" fill="#55a060" stroke="#55a060" stroke-width="0.12">20</text>
<text x="415.2" y="626.5" font-size="8.5" text-anchor="middle" fill="#b03252" stroke="#b03252" stroke-width="0.12">6</text>
<text x="416.2" y="638.7" font-size="8.5" text-anchor="middle" fill="#55a060" stroke="#55a060" stroke-width="0.12">18</text>
<text x="433.94" y="626.5" font-size="8.5" text-anchor="middle" fill="#b03252" stroke="#b03252" stroke-width="0.12">6</text>
<text x="434.94" y="638.7" font-size="8.5" text-anchor="middle" fill="#55a060" stroke="#55a060" stroke-width="0.12">17</text>
<text x="452.68" y="626.5" font-size="8.5" text-anchor="middle" fill="#b03252" stroke="#b03252" stroke-width="0.12">5</text>
<text x="453.68" y="638.7" font-size="8.5" text-anchor="middle" fill="#55a060" stroke="#55a060" stroke-width="0.12">14</text>
<text x="471.42" y="626.5" font-size="8.5" text-anchor="middle" fill="#b03252" stroke="#b03252" stroke-width="0.12">4</text>
<text x="471.42" y="638.7" font-size="8.5" text-anchor="middle" fill="#55a060" stroke="#55a060" stroke-width="0.12">8</text>
<text x="490.16" y="626.5" font-size="8.5" text-anchor="middle" fill="#b03252" stroke="#b03252" stroke-width="0.12">4</text>
<text x="490.16" y="638.7" font-size="8.5" text-anchor="middle" fill="#55a060" stroke="#55a060" stroke-width="0.12">7</text>
<text x="508.9" y="626.5" font-size="8.5" text-anchor="middle" fill="#b03252" stroke="#b03252" stroke-width="0.12">2</text>
<text x="508.9" y="638.7" font-size="8.5" text-anchor="middle" fill="#55a060" stroke="#55a060" stroke-width="0.12">6</text>
<path d="M322.9 583.2 L324.6 583.2 L324.6 581 L326.3 581 L326.3 578.8 L328.2 578.8 L329.6 575 L332 562 L334.4 550.5 L335.9 550.5 L338.3 545.2 L339.7 541.8 L342.1 537 L344.05 537 L344.05 535.1 L346 535.1 L346 533.2 L350.8 533.2 L352.2 531.5 L359.4 531.5 L359.4 529.6 L509 529.6" fill="none" stroke="#55a466" stroke-width="1.05" stroke-linejoin="miter"/>
<path d="M401.7 528.3V530.9M410.4 528.3V530.9M427.4 528.3V530.9M435.7 528.3V530.9M436.4 528.3V530.9M440.4 528.3V530.9M447.5 528.3V530.9M456.6 528.3V530.9M461.6 528.3V530.9M464.8 528.3V530.9M467.4 528.3V530.9M471.5 528.3V530.9M473.5 528.3V530.9M474.6 528.3V530.9M509 528.3V530.9" stroke="#3a7048" stroke-width="0.9"/>
<path d="M322.9 583.2 L324.6 583.2 L324.6 581 L326.3 581 L326.3 578.8 L328.2 578.8 L329.6 575 L332 562 L336.3 562 L336.3 554.3 L338.3 554.3 L338.3 552.9 L340.7 550 L342.6 550 L342.6 545.7 L362.8 545.7 L362.8 541.5 L509 541.5" fill="none" stroke="#bf2f52" stroke-width="1.05" stroke-linejoin="miter"/>
<path d="M373.2 540.2V542.8M392.8 540.2V542.8M394.5 540.2V542.8M402.5 540.2V542.8M459.9 540.2V542.8M506.1 540.2V542.8M508.5 540.2V542.8" stroke="#7a2038" stroke-width="0.9"/>
<path d="M179.5 27H193.1" stroke="#bf2f52" stroke-width="1.05"/>
<path d="M179.5 41.5H193.1" stroke="#55a466" stroke-width="1.05"/>
<text x="197.4" y="29.6" font-size="7.6" font-style="italic" textLength="35.2" lengthAdjust="spacingAndGlyphs" fill="#2a2a2a" stroke="#2a2a2a" stroke-width="0.2">DDX41mut</text>
<text x="197.6" y="44.0" font-size="7.6" font-style="italic" textLength="30.5" lengthAdjust="spacingAndGlyphs" fill="#2a2a2a" stroke="#2a2a2a" stroke-width="0.2">DDX41wt</text>
<g fill="#5a5a5a"><rect x="0" y="0" width="520" height="1"/><rect x="0" y="0" width="1.15" height="647"/><rect x="518.7" y="0" width="1.3" height="647"/><rect x="0" y="645.7" width="520" height="1.3"/></g>
</svg></body></html>
